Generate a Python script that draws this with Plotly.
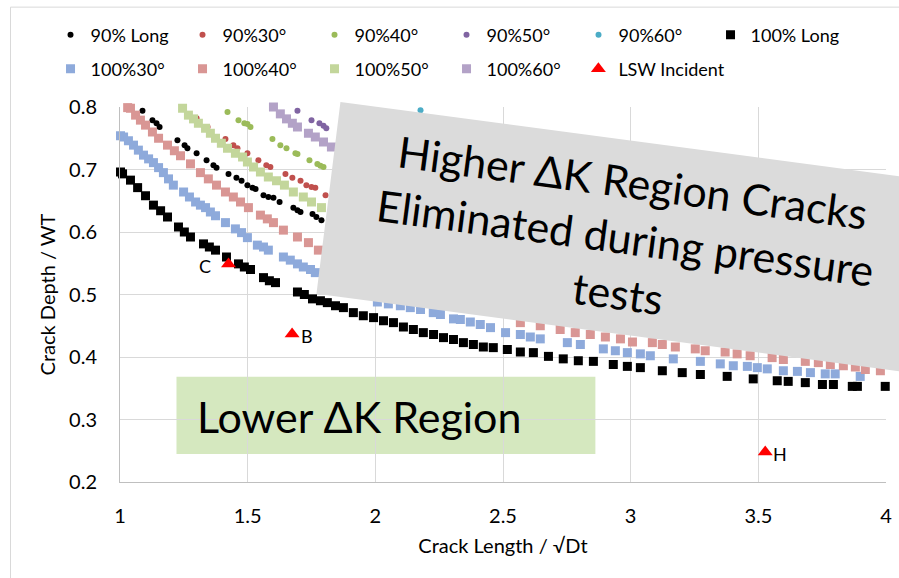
import plotly.graph_objects as go

# ---------------- data ----------------
long90_x = [1.088, 1.127, 1.143, 1.155, 1.225, 1.253, 1.264, 1.300, 1.339, 1.366, 1.378, 1.425, 1.456,
            1.476, 1.499, 1.519, 1.531, 1.562, 1.581, 1.601, 1.625, 1.679, 1.695, 1.707, 1.754, 1.769, 1.789]
long90_y = [0.794, 0.779, 0.774, 0.768, 0.747, 0.739, 0.734, 0.726, 0.715, 0.707, 0.703, 0.693, 0.687,
            0.682, 0.675, 0.671, 0.669, 0.659, 0.656, 0.655, 0.648, 0.639, 0.635, 0.632, 0.629, 0.624, 0.619]

d30_90_x = [1.300, 1.343, 1.413, 1.444, 1.460, 1.499, 1.542, 1.573, 1.589, 1.648, 1.675, 1.707, 1.730, 1.750, 1.765, 1.805]
d30_90_y = [0.782, 0.768, 0.749, 0.739, 0.734, 0.726, 0.715, 0.707, 0.704, 0.693, 0.687, 0.682, 0.675, 0.672, 0.671, 0.659]

d40_90_x = [1.421, 1.464, 1.487, 1.499, 1.511, 1.597, 1.628, 1.652, 1.687, 1.695, 1.742, 1.773, 1.785, 1.797]
d40_90_y = [0.792, 0.779, 0.774, 0.773, 0.768, 0.749, 0.739, 0.734, 0.726, 0.725, 0.715, 0.709, 0.706, 0.704]

d50_90_x = [1.695, 1.750, 1.781, 1.797, 1.808]
d50_90_y = [0.794, 0.779, 0.774, 0.770, 0.766]

d60_90_x = [2.177]
d60_90_y = [0.795]

long100_x = [1.002, 1.010, 1.041, 1.069, 1.100, 1.131, 1.159, 1.186, 1.229, 1.252, 1.276, 1.327, 1.350,
             1.374, 1.417, 1.464, 1.487, 1.511, 1.562, 1.585, 1.609, 1.695, 1.722, 1.754, 1.785, 1.812,
             1.844, 1.875, 1.914, 1.953, 1.993, 2.032, 2.071, 2.110, 2.149, 2.188, 2.228, 2.267, 2.306,
             2.345, 2.384, 2.423, 2.462, 2.517, 2.568, 2.619, 2.678, 2.736, 2.795, 2.854, 2.932, 2.987,
             3.038, 3.124, 3.202, 3.273, 3.378, 3.480, 3.574, 3.617, 3.684, 3.751, 3.794, 3.868, 3.888, 3.997]
long100_y = [0.696, 0.693, 0.683, 0.671, 0.658, 0.643, 0.634, 0.624, 0.608, 0.600, 0.592, 0.581, 0.576,
             0.571, 0.560, 0.549, 0.544, 0.540, 0.527, 0.522, 0.519, 0.504, 0.500, 0.493, 0.490, 0.487,
             0.482, 0.479, 0.471, 0.466, 0.463, 0.458, 0.455, 0.448, 0.444, 0.439, 0.436, 0.431, 0.428,
             0.423, 0.420, 0.416, 0.415, 0.412, 0.408, 0.407, 0.401, 0.397, 0.394, 0.393, 0.388, 0.385,
             0.383, 0.378, 0.375, 0.372, 0.369, 0.365, 0.362, 0.361, 0.359, 0.356, 0.356, 0.353, 0.353, 0.353]

d30_100_x = [1.002, 1.014, 1.033, 1.053, 1.072, 1.092, 1.112, 1.131, 1.151, 1.170, 1.190, 1.209, 1.249,
             1.272, 1.296, 1.315, 1.335, 1.354, 1.374, 1.413, 1.452, 1.476, 1.499, 1.538, 1.562, 1.581,
             1.640, 1.667, 1.695, 1.718, 1.746, 1.765,
             2.008, 2.051, 2.098, 2.137, 2.177, 2.227, 2.255, 2.306, 2.333, 2.372, 2.411, 2.451, 2.510,
             2.568, 2.607, 2.646, 2.752, 2.803, 2.893, 2.940, 2.987, 3.038, 3.077, 3.167, 3.273, 3.351,
             3.402, 3.457, 3.496, 3.535, 3.598, 3.653, 3.704, 3.762, 3.801, 3.899]
d30_100_y = [0.754, 0.752, 0.746, 0.739, 0.731, 0.723, 0.717, 0.711, 0.703, 0.695, 0.685, 0.675, 0.664,
             0.656, 0.648, 0.643, 0.639, 0.632, 0.626, 0.615, 0.605, 0.599, 0.591, 0.579, 0.576, 0.571,
             0.560, 0.555, 0.549, 0.544, 0.540, 0.535,
             0.488, 0.485, 0.482, 0.479, 0.476, 0.471, 0.468, 0.461, 0.460, 0.456, 0.452, 0.447, 0.439,
             0.436, 0.432, 0.429, 0.423, 0.420, 0.413, 0.410, 0.407, 0.405, 0.402, 0.397, 0.393, 0.389,
             0.386, 0.385, 0.383, 0.381, 0.378, 0.377, 0.375, 0.373, 0.373, 0.369]

d40_100_x = [1.030, 1.041, 1.061, 1.080, 1.100, 1.127, 1.151, 1.186, 1.213, 1.237, 1.276, 1.315, 1.346,
             1.378, 1.413, 1.444, 1.472, 1.503, 1.550, 1.577, 1.601, 1.640, 1.695, 1.738, 1.777,
             2.568, 2.646, 2.724, 2.783, 2.842, 2.901, 2.960, 3.007, 3.085, 3.124, 3.175, 3.253, 3.292,
             3.370, 3.417, 3.468, 3.554, 3.598, 3.684, 3.735, 3.782, 3.833, 3.880, 3.919, 3.978]
d40_100_y = [0.799, 0.798, 0.787, 0.779, 0.771, 0.760, 0.750, 0.739, 0.730, 0.722, 0.709, 0.695, 0.685,
             0.675, 0.664, 0.656, 0.648, 0.639, 0.627, 0.621, 0.615, 0.603, 0.592, 0.583, 0.571,
             0.455, 0.450, 0.444, 0.439, 0.436, 0.432, 0.429, 0.424, 0.423, 0.420, 0.416, 0.413, 0.410,
             0.408, 0.405, 0.402, 0.399, 0.396, 0.393, 0.391, 0.388, 0.386, 0.384, 0.380, 0.378]

d50_100_x = [1.245, 1.268, 1.288, 1.307, 1.335, 1.354, 1.374, 1.397, 1.421, 1.452, 1.480, 1.499, 1.523,
             1.550, 1.581, 1.613, 1.644, 1.679, 1.718, 1.750, 1.789]
d50_100_y = [0.798, 0.787, 0.781, 0.774, 0.766, 0.758, 0.750, 0.742, 0.734, 0.726, 0.720, 0.712, 0.704,
             0.696, 0.688, 0.682, 0.675, 0.664, 0.656, 0.648, 0.639]

d60_100_x = [1.601, 1.628, 1.652, 1.675, 1.695, 1.738, 1.765, 1.797, 1.828]
d60_100_y = [0.800, 0.789, 0.781, 0.774, 0.768, 0.758, 0.752, 0.744, 0.736]

lsw_x = [1.425, 1.674, 3.527]
lsw_y = [0.549, 0.437, 0.248]
lsw_labels = ["C", "B", "H"]
lsw_label_side = [-1, 1, 1]

x_ticks = [1, 1.5, 2, 2.5, 3, 3.5, 4]
y_ticks = [0.2, 0.3, 0.4, 0.5, 0.6, 0.7, 0.8]

# ---------------- layout geometry ----------------
W, H = 899, 578
ML, MR, MT, MB = 119.5, 13.3, 107, 95.5
PW = W - ML - MR
PH = H - MT - MB


def pxx(p):
    return (p - ML) / PW


def pxy(p):
    return (H - MB - p) / PH


FONT = "Lato"
LEG_FONT = dict(family=FONT, size=18, color="#000000")

fig = go.Figure()

small = [
    ("90% Long", long90_x, long90_y, "#000000"),
    ("90%30°", d30_90_x, d30_90_y, "#c0504d"),
    ("90%40°", d40_90_x, d40_90_y, "#9bbb59"),
    ("90%50°", d50_90_x, d50_90_y, "#8064a2"),
    ("90%60°", d60_90_x, d60_90_y, "#4bacc6"),
]
for name, xs, ys, col in small:
    fig.add_trace(go.Scatter(x=xs, y=ys, name=name, mode="markers", legend="legend",
                             marker=dict(symbol="circle", size=6, color=col), cliponaxis=False))

fig.add_trace(go.Scatter(x=long100_x, y=long100_y, name="100% Long", mode="markers", legend="legend",
                         marker=dict(symbol="square", size=9, color="#000000"), cliponaxis=False))

big = [
    ("100%30°", d30_100_x, d30_100_y, "#8eaadb"),
    ("100%40°", d40_100_x, d40_100_y, "#d99694"),
    ("100%50°", d50_100_x, d50_100_y, "#c3d69b"),
    ("100%60°", d60_100_x, d60_100_y, "#b3a2c7"),
]
for name, xs, ys, col in big:
    fig.add_trace(go.Scatter(x=xs, y=ys, name=name, mode="markers", legend="legend2",
                             marker=dict(symbol="square", size=9, color=col), cliponaxis=False))

fig.add_trace(go.Scatter(x=lsw_x, y=lsw_y, name="LSW Incident", mode="markers", legend="legend3",
                         marker=dict(symbol="triangle-up", size=13, color="#ff0000"), cliponaxis=False))

# gray rotated box (upper right)
box = [(340, 102), (960, 102 + 0.133 * 620), (960, 294 + 0.133 * 644), (316, 294)]
path = "M " + " L ".join(f"{pxx(a):.5f},{pxy(b):.5f}" for a, b in box) + " Z"
shapes = [
    dict(type="path", xref="paper", yref="paper", path=path, fillcolor="#dbdbdb",
         line=dict(width=0), layer="above"),
    dict(type="rect", xref="paper", yref="paper", x0=pxx(176), x1=pxx(595), y0=pxy(454.5), y1=pxy(377),
         fillcolor="#d5e8bf", line=dict(width=0), layer="below"),
    dict(type="rect", xref="paper", yref="paper", x0=pxx(10), x1=pxx(905), y0=pxy(590), y1=pxy(7),
         fillcolor="rgba(0,0,0,0)", line=dict(width=1, color="#d9d9d9"), layer="below"),
]

annotations = [
    dict(xref="paper", yref="paper", x=pxx(625), y=pxy(238), xanchor="center", yanchor="middle",
         text="Higher ΔK Region Cracks<br>Eliminated during pressure<br>tests", showarrow=False,
         textangle=7.6, align="center", font=dict(family=FONT, size=43, color="#000000")),
    dict(xref="paper", yref="paper", x=pxx(359), y=pxy(417), xanchor="center", yanchor="middle",
         text="Lower ΔK Region", showarrow=False, font=dict(family=FONT, size=43, color="#000000")),
]
for xv, yv, lab, side in zip(lsw_x, lsw_y, lsw_labels, lsw_label_side):
    annotations.append(dict(x=xv, y=yv, xref="x", yref="y", text=lab, showarrow=False,
                            xanchor="center", yanchor="middle", xshift=24 * side if side < 0 else 15,
                            yshift=-2, font=dict(family=FONT, size=18, color="#000000")))

leg_common = dict(orientation="h", xanchor="left", yanchor="middle", entrywidth=87,
                  entrywidthmode="pixels", font=LEG_FONT, bgcolor="rgba(0,0,0,0)", traceorder="normal")

fig.update_layout(
    width=W, height=H,
    margin=dict(l=ML, r=MR, t=MT, b=MB, pad=0),
    paper_bgcolor="#ffffff", plot_bgcolor="#ffffff",
    font=dict(family=FONT, color="#000000"),
    shapes=shapes, annotations=annotations,
    legend=dict(x=pxx(50), y=pxy(35), **leg_common),
    legend2=dict(x=pxx(50), y=pxy(69), **leg_common),
    legend3=dict(orientation="h", xanchor="left", yanchor="middle", x=pxx(50 + 4 * 132), y=pxy(69),
                 font=LEG_FONT, bgcolor="rgba(0,0,0,0)"),
    xaxis=dict(range=[1, 4], tickvals=x_ticks, ticktext=[f"{v:g}" for v in x_ticks],
               showgrid=True, gridcolor="#d9d9d9", gridwidth=1, zeroline=False,
               showline=True, linecolor="#bfbfbf", linewidth=1, mirror=False, ticks="",
               ticklabelstandoff=16, tickfont=dict(family=FONT, size=20, color="#000000"),
               title=dict(text="Crack Length / √Dt", font=dict(family=FONT, size=20, color="#000000"),
                          standoff=12),
               automargin=False),
    yaxis=dict(range=[0.2, 0.8], tickvals=y_ticks, ticktext=[f"{v:g}" for v in y_ticks],
               showgrid=True, gridcolor="#d9d9d9", gridwidth=1, zeroline=False,
               showline=True, linecolor="#bfbfbf", linewidth=1, ticks="",
               ticklabelstandoff=18, tickfont=dict(family=FONT, size=20, color="#000000"),
               title=dict(text="Crack Depth / WT", font=dict(family=FONT, size=20, color="#000000"),
                          standoff=8),
               automargin=False),
)

fig.write_html("out.html")
